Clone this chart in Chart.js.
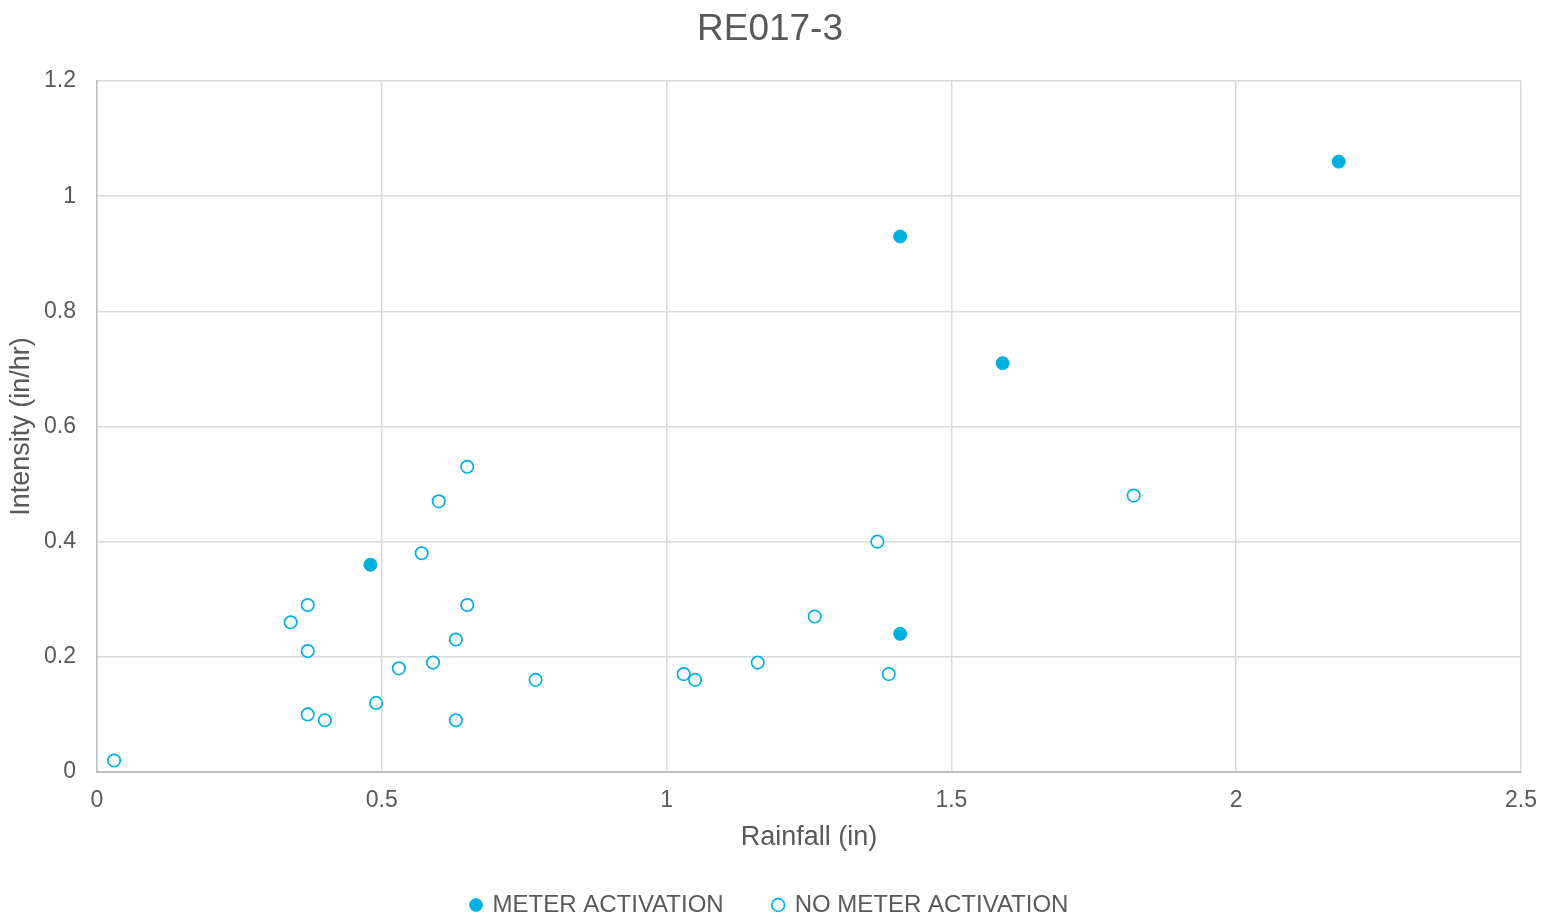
<!DOCTYPE html>
<html>
<head>
<meta charset="utf-8">
<title>RE017-3</title>
<script src="https://cdn.jsdelivr.net/npm/chart.js@4"></script>
<style>
  html, body { margin: 0; padding: 0; background: #fff; }
  #wrap { width: 1542px; height: 917px; position: relative; }
</style>
</head>
<body>
<div id="wrap"><canvas id="scatter_chart"></canvas></div>
<script>
const ctx = document.querySelector('#scatter_chart')

// rainfall (in) / intensity (in/hr)
const meterRain = [0.48, 1.41, 1.41, 1.59, 2.18]
const meterIntensity = [0.36, 0.93, 0.24, 0.71, 1.06]

const noMeterRain = [0.03, 0.34, 0.37, 0.37, 0.37, 0.40, 0.49, 0.53, 0.57, 0.59, 0.60, 0.63, 0.63, 0.65, 0.65, 0.77, 1.03, 1.05, 1.16, 1.26, 1.37, 1.39, 1.82]
const noMeterIntensity = [0.02, 0.26, 0.29, 0.21, 0.10, 0.09, 0.12, 0.18, 0.38, 0.19, 0.47, 0.23, 0.09, 0.53, 0.29, 0.16, 0.17, 0.16, 0.19, 0.27, 0.40, 0.17, 0.48]

const xTicks = [0, 0.5, 1, 1.5, 2, 2.5]
const yTicks = [0, 0.2, 0.4, 0.6, 0.8, 1, 1.2]

const blue = '#00B0E0'
const grey = '#595959'
const font = '"Liberation Sans", Arial, sans-serif'

const toPoints = (xs, ys) => xs.map((x, i) => ({ x: x, y: ys[i] }))
// excel style: 1 not 1.0
const fmt = v => String(Math.round(v * 10) / 10)

const data = {
    datasets: [
        {
            label: 'METER ACTIVATION',
            data: toPoints(meterRain, meterIntensity),
            backgroundColor: blue,
            borderColor: blue,
            borderWidth: 1,
            pointRadius: 6.5
        },
        {
            label: 'NO METER ACTIVATION',
            data: toPoints(noMeterRain, noMeterIntensity),
            backgroundColor: '#ffffff',
            borderColor: blue,
            borderWidth: 1.7,
            pointRadius: 6.2
        }
    ]
};

const options = {
    responsive: true,
    maintainAspectRatio: false,
    animation: false,
    layout: {
        padding: { left: 19, right: 21, top: 0, bottom: 0 }
    },
    plugins: {
        title: {
            display: true,
            text: 'RE017-3',
            color: grey,
            font: { family: font, size: 37, weight: 'normal' },
            padding: { top: 8, bottom: 28.6 }
        },
        legend: {
            position: 'bottom',
            maxHeight: 74,
            labels: {
                usePointStyle: true,
                pointStyle: 'circle',
                boxWidth: 9,
                boxHeight: 9,
                padding: 50,
                color: grey,
                font: { family: font, size: 24 }
            }
        },
        tooltip: { enabled: false }
    },
    scales: {
        x: {
            type: 'linear',
            min: xTicks[0],
            max: xTicks[xTicks.length - 1],
            afterBuildTicks: axis => { axis.ticks = xTicks.map(v => ({ value: v })) },
            afterFit: axis => {
                axis.height = 71
                axis.paddingLeft = 0
                axis.paddingRight = 0
            },
            grid: {
                color: '#d9d9d9',
                lineWidth: 1.5,
                drawTicks: false
            },
            border: { color: '#bfbfbf', width: 2 },
            ticks: {
                padding: 15,
                color: grey,
                font: { family: font, size: 23 },
                callback: fmt
            },
            title: {
                display: true,
                text: 'Rainfall (in)',
                color: grey,
                font: { family: font, size: 27 },
                padding: { top: 0, bottom: -11 }
            }
        },
        y: {
            type: 'linear',
            min: yTicks[0],
            max: yTicks[yTicks.length - 1],
            afterBuildTicks: axis => { axis.ticks = yTicks.map(v => ({ value: v })) },
            afterFit: axis => { axis.width = 78 },
            grid: {
                color: '#d9d9d9',
                lineWidth: 1.5,
                drawTicks: false
            },
            border: { color: '#bfbfbf', width: 1.5 },
            ticks: {
                padding: 21,
                color: grey,
                font: { family: font, size: 23 },
                callback: fmt
            },
            title: {
                display: true,
                text: 'Intensity (in/hr)',
                color: grey,
                font: { family: font, size: 27 },
                padding: { top: -14, bottom: 0 }
            }
        }
    }
}

new Chart(ctx, {
    type: 'scatter',
    data: data,
    options: options
})
</script>
</body>
</html>
